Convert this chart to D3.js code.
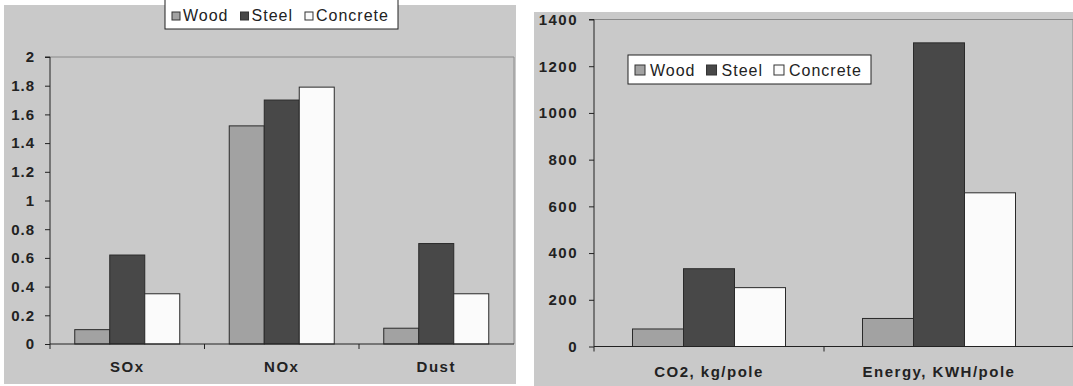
<!DOCTYPE html>
<html>
<head>
<meta charset="utf-8">
<script src="https://cdn.jsdelivr.net/npm/d3@7"></script>
<style>
  body { margin: 0; background: #fff; }
  text { font-family: "Liberation Sans", Arial, sans-serif; fill: #222; }
</style>
</head>
<body>
<svg id="canvas" width="1073" height="386"></svg>
<script>
// series names shared by both charts
var series = ["Wood", "Steel", "Concrete"];
var seriesColors = ["#a2a2a2", "#484848", "#fbfbfb"];

// left chart: emissions
var emCategories = ["SOx", "NOx", "Dust"];
var emWood = [0.10, 1.52, 0.11];
var emSteel = [0.62, 1.70, 0.70];
var emConcrete = [0.35, 1.79, 0.35];
var emTicks = [0, 0.2, 0.4, 0.6, 0.8, 1, 1.2, 1.4, 1.6, 1.8, 2];

// right chart: CO2 and energy
var enCategories = ["CO2, kg/pole", "Energy, KWH/pole"];
var enWood = [75, 120];
var enSteel = [333, 1300];
var enConcrete = [252, 658];
var enTicks = [0, 200, 400, 600, 800, 1000, 1200, 1400];

var svg = d3.select("#canvas");

function drawChart(opt) {
    var g = svg.append("g");

    // panel background
    g.append("rect")
        .attr("x", opt.panel[0]).attr("y", opt.panel[1])
        .attr("width", opt.panel[2]).attr("height", opt.panel[3])
        .attr("fill", "#c9c9c9");

    var x = d3.scaleBand()
        .domain(opt.categories)
        .range([opt.left, opt.left + opt.band * opt.categories.length]);

    // bars of one group sit in the middle of the category band
    var xs = d3.scaleBand()
        .domain(series)
        .range([(opt.band - opt.group) / 2, (opt.band + opt.group) / 2]);

    var y = d3.scaleLinear()
        .domain([0, opt.max])
        .range([opt.bottom, opt.top]);

    // plot area border (top and right)
    g.append("path")
        .attr("d", "M" + opt.left + "," + opt.top + "H" + opt.plotRight + "V" + opt.bottom)
        .attr("fill", "none")
        .attr("stroke", "#8a8a8a")
        .attr("stroke-width", 1);

    // bars
    var rows = opt.categories.map(function(c, i) {
        return series.map(function(s, k) { return {cat: c, s: s, k: k, v: opt.values[k][i]}; });
    });
    g.selectAll(".grp")
        .data(rows)
        .enter().append("g")
        .attr("transform", function(d) { return "translate(" + x(d[0].cat) + ",0)"; })
        .selectAll("rect")
        .data(function(d) { return d; })
        .enter().append("rect")
        .attr("x", function(d) { return xs(d.s); })
        .attr("y", function(d) { return y(d.v); })
        .attr("width", xs.bandwidth())
        .attr("height", function(d) { return opt.bottom - y(d.v); })
        .attr("fill", function(d) { return seriesColors[d.k]; })
        .attr("stroke", "#2a2a2a")
        .attr("stroke-width", 1);

    // y axis
    var yAxis = d3.axisLeft(y)
        .tickValues(opt.ticks)
        .tickSize(5)
        .tickPadding(opt.tickPad)
        .tickFormat(function(d) { return String(d); });
    var ya = g.append("g")
        .attr("transform", "translate(" + opt.left + ",0)")
        .call(yAxis);
    ya.select(".domain").attr("stroke", "#222").attr("d", "M-5," + opt.top + "H0V" + opt.bottom);
    ya.selectAll(".tick line").attr("stroke", "#222");
    ya.selectAll(".tick text")
        .style("font-size", opt.tickFont + "px")
        .style("font-weight", "bold")
        .style("letter-spacing", opt.tickSpacing + "px")
        .attr("fill", "#222");

    // x axis
    var xAxis = d3.axisBottom(x).tickSize(0).tickPadding(opt.catPad);
    var xa = g.append("g")
        .attr("transform", "translate(0," + opt.bottom + ")")
        .call(xAxis);
    xa.select(".domain").remove();
    xa.append("line")
        .attr("x1", opt.left).attr("x2", opt.plotRight)
        .attr("stroke", "#222");
    xa.selectAll(".tick text")
        .style("font-size", opt.catFont + "px")
        .style("font-weight", "bold")
        .style("letter-spacing", opt.catSpacing + "px")
        .attr("fill", "#222");
    // category separators
    xa.selectAll(".sep")
        .data(opt.categories)
        .enter().append("line")
        .attr("x1", function(d) { return x(d); })
        .attr("x2", function(d) { return x(d); })
        .attr("y1", 0).attr("y2", 5)
        .attr("stroke", "#222");

    // legend
    var lg = g.append("g").attr("transform", "translate(" + opt.legend[0] + "," + opt.legend[1] + ")");
    lg.append("rect")
        .attr("width", opt.legend[2]).attr("height", opt.legend[3])
        .attr("fill", "#fff")
        .attr("stroke", "#222");
    var cx = opt.legendPad;
    series.forEach(function(s, k) {
        lg.append("rect")
            .attr("x", cx).attr("y", opt.legendY - opt.sw)
            .attr("width", opt.sw).attr("height", opt.sw)
            .attr("fill", seriesColors[k])
            .attr("stroke", "#333");
        var t = lg.append("text")
            .attr("x", cx + opt.sw + opt.textGap)
            .attr("y", opt.legendY + 1)
            .style("font-size", opt.legendFont + "px")
            .style("letter-spacing", "1px")
            .text(s);
        cx += opt.sw + opt.textGap + t.node().getComputedTextLength() + opt.legendGap;
    });
}

drawChart({
    panel: [4, 5, 512, 379],
    categories: emCategories,
    values: [emWood, emSteel, emConcrete],
    ticks: emTicks,
    max: 2,
    left: 50, band: 154.5, group: 105, plotRight: 514,
    top: 57, bottom: 344,
    tickPad: 10, tickFont: 15, tickSpacing: 1,
    catPad: 17, catFont: 15, catSpacing: 1.5,
    legend: [165, -1, 233, 30], legendY: 21, legendPad: 7, sw: 8, textGap: 3,
    legendGap: 12, legendFont: 16
});

drawChart({
    panel: [534, 12, 539, 374],
    categories: enCategories,
    values: [enWood, enSteel, enConcrete],
    ticks: enTicks,
    max: 1400,
    left: 594, band: 230, group: 153, plotRight: 1073,
    top: 19.5, bottom: 346.5,
    tickPad: 11, tickFont: 15, tickSpacing: 1.5,
    catPad: 20, catFont: 15, catSpacing: 1.5,
    legend: [628, 55, 243, 29], legendY: 20, legendPad: 7, sw: 10, textGap: 5,
    legendGap: 11, legendFont: 16
});
</script>
</body>
</html>
